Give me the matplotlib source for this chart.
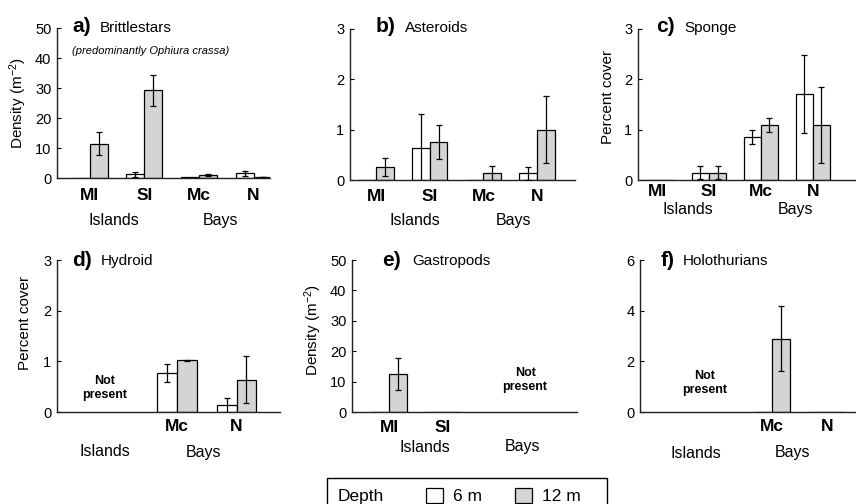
import numpy as np
import matplotlib
matplotlib.use("Agg")
import matplotlib.pyplot as plt
from matplotlib.patches import Rectangle, Patch

plt.rcParams['font.family'] = ['Liberation Sans', 'DejaVu Sans']
plt.rcParams['mathtext.fontset'] = 'custom'
plt.rcParams['mathtext.rm'] = 'Liberation Sans'
plt.rcParams['mathtext.it'] = 'Liberation Sans:italic'

# ---------------- data ----------------
groups = ["MI", "SI", "Mc", "N"]
nan = np.nan

brittle_6 = [0.0, 1.2, 0.2, 1.6]
brittle_6_err = [0.0, 0.8, 0.0, 0.8]
brittle_12 = [11.5, 29.3, 0.9, 0.4]
brittle_12_err = [3.7, 5.2, 0.3, 0.1]

aster_6 = [0.0, 0.63, 0.0, 0.13]
aster_6_err = [0.0, 0.68, 0.0, 0.13]
aster_12 = [0.25, 0.76, 0.13, 1.0]
aster_12_err = [0.18, 0.34, 0.14, 0.67]

sponge_6 = [0.0, 0.14, 0.86, 1.71]
sponge_6_err = [0.0, 0.13, 0.14, 0.77]
sponge_12 = [0.0, 0.14, 1.09, 1.09]
sponge_12_err = [0.0, 0.13, 0.14, 0.75]

hydroid_6 = [nan, nan, 0.77, 0.13]
hydroid_6_err = [0.0, 0.0, 0.18, 0.14]
hydroid_12 = [nan, nan, 1.02, 0.64]
hydroid_12_err = [0.0, 0.0, 0.01, 0.46]

gastro_6 = [0.0, 0.0, nan, nan]
gastro_6_err = [0.0, 0.0, 0.0, 0.0]
gastro_12 = [12.5, 0.0, nan, nan]
gastro_12_err = [5.4, 0.0, 0.0, 0.0]

holo_6 = [nan, nan, 0.0, 0.0]
holo_6_err = [0.0, 0.0, 0.0, 0.0]
holo_12 = [nan, nan, 2.9, 0.0]
holo_12_err = [0.0, 0.0, 1.28, 0.0]

# ---------------- layout ----------------
W, H = 856, 504
fig = plt.figure(figsize=(W / 100, H / 100), dpi=100)

WHITE = "white"
GREY = "#d4d4d4"
BW = 0.33

panels = [
    dict(letter="a)", name="Brittlestars", sub="(predominantly Ophiura crassa)",
         v6=brittle_6, e6=brittle_6_err, v12=brittle_12, e12=brittle_12_err,
         rect=(57, 28, 270, 178), xlim=(-0.6, 3.3), ylim=50, yticks=[0, 10, 20, 30, 40, 50],
         ticks=[0, 1, 2, 3], tpad=7.5, glab=(0.45, 2.4), gdy=42,
         ylabel="Density (m$^{-2}$)", ylab_xy=(18, 103),
         title_xy=(72, 27), name_x=100, notpresent=None),
    dict(letter="b)", name="Asteroids", sub=None,
         v6=aster_6, e6=aster_6_err, v12=aster_12, e12=aster_12_err,
         rect=(350, 29, 575, 180), xlim=(-0.484, 3.706), ylim=3, yticks=[0, 1, 2, 3],
         ticks=[0, 1, 2, 3], tpad=6.5, glab=(0.73, 2.57), gdy=40,
         ylabel=None, ylab_xy=None,
         title_xy=(376, 27), name_x=405, notpresent=None),
    dict(letter="c)", name="Sponge", sub=None,
         v6=sponge_6, e6=sponge_6_err, v12=sponge_12, e12=sponge_12_err,
         rect=(638, 29, 856, 180), xlim=(-0.365, 3.83), ylim=3, yticks=[0, 1, 2, 3],
         ticks=[0, 1, 2, 3], tpad=3, glab=(0.6, 2.67), gdy=29,
         ylabel="Percent cover", ylab_xy=(608, 97),
         title_xy=(656, 27), name_x=684, notpresent=None),
    dict(letter="d)", name="Hydroid", sub=None,
         v6=hydroid_6, e6=hydroid_6_err, v12=hydroid_12, e12=hydroid_12_err,
         rect=(57, 260, 280, 412), xlim=(-0.017, 3.73), ylim=3, yticks=[0, 1, 2, 3],
         ticks=[2, 3], tpad=5, glab=(0.79, 2.45), gdy=40,
         ylabel="Percent cover", ylab_xy=(25, 323),
         title_xy=(72, 260), name_x=101, notpresent=(0.79, 0.158)),
    dict(letter="e)", name="Gastropods", sub=None,
         v6=gastro_6, e6=gastro_6_err, v12=gastro_12, e12=gastro_12_err,
         rect=(352, 260, 577, 412), xlim=(-0.685, 3.48), ylim=50, yticks=[0, 10, 20, 30, 40, 50],
         ticks=[0, 1], tpad=6, glab=(0.67, 2.48), gdy=35,
         ylabel="Density (m$^{-2}$)", ylab_xy=(313, 330),
         title_xy=(382, 260), name_x=412, notpresent=(2.52, 0.21)),
    dict(letter="f)", name="Holothurians", sub=None,
         v6=holo_6, e6=holo_6_err, v12=holo_12, e12=holo_12_err,
         rect=(640, 260, 856, 412), xlim=(-0.4, 3.53), ylim=6, yticks=[0, 2, 4, 6],
         ticks=[2, 3], tpad=5, glab=(0.62, 2.38), gdy=41,
         ylabel=None, ylab_xy=None,
         title_xy=(661, 260), name_x=683, notpresent=(0.78, 0.19)),
]

x = np.arange(len(groups))

for p in panels:
    l, t, r, b = p["rect"]
    ax = fig.add_axes([l / W, 1 - b / H, (r - l) / W, (b - t) / H])
    v6 = np.array(p["v6"], dtype=float)
    v12 = np.array(p["v12"], dtype=float)
    e6 = np.array(p["e6"], dtype=float)
    e12 = np.array(p["e12"], dtype=float)
    m6 = ~np.isnan(v6)
    m12 = ~np.isnan(v12)
    ax.bar(x[m6] - BW / 2, v6[m6], BW, color=WHITE, edgecolor="black", linewidth=0.9, zorder=2)
    ax.bar(x[m12] + BW / 2, v12[m12], BW, color=GREY, edgecolor="black", linewidth=0.9, zorder=2)
    k6 = m6 & (e6 > 0)
    k12 = m12 & (e12 > 0)
    ax.errorbar(x[k6] - BW / 2, v6[k6], yerr=e6[k6], fmt="none", ecolor="black",
                elinewidth=0.9, capsize=2.2, capthick=0.9, zorder=3)
    ax.errorbar(x[k12] + BW / 2, v12[k12], yerr=e12[k12], fmt="none", ecolor="black",
                elinewidth=0.9, capsize=2.2, capthick=0.9, zorder=3)

    ax.set_xlim(*p["xlim"])
    ax.set_ylim(0, p["ylim"])
    ax.set_yticks(p["yticks"])
    ax.set_yticklabels([str(v) for v in p["yticks"]], fontsize=10.5)
    ax.set_xticks(p["ticks"])
    ax.set_xticklabels([groups[i] for i in p["ticks"]], fontsize=12.5, fontweight="bold")
    ax.tick_params(axis="x", length=0, pad=p["tpad"])
    ax.tick_params(axis="y", direction="in", length=3, width=0.8, pad=4)
    for s in ("top", "right"):
        ax.spines[s].set_visible(False)
    for s in ("left", "bottom"):
        ax.spines[s].set_linewidth(1.0)
        ax.spines[s].set_color("#222222")
    ax.patch.set_alpha(0)

    for lab, gx in zip(["Islands", "Bays"], p["glab"]):
        ax.annotate(lab, xy=(gx, 0), xycoords=("data", "axes fraction"),
                    xytext=(0, -p["gdy"] * 0.72), textcoords="offset points",
                    ha="center", va="center", fontsize=11.5)

    if p["notpresent"] is not None:
        nx, ny = p["notpresent"]
        ax.text(nx, ny, "Not\npresent", transform=ax.get_xaxis_transform(),
                ha="center", va="center", fontsize=9, fontweight="bold", linespacing=1.3)

    tx, ty = p["title_xy"]
    fig.text(tx / W, 1 - ty / H, p["letter"], fontsize=15, fontweight="bold",
             ha="left", va="center")
    fig.text(p["name_x"] / W, 1 - (ty + 1) / H, p["name"], fontsize=11,
             ha="left", va="center")
    if p["sub"]:
        fig.text(tx / W, 1 - (ty + 24) / H, p["sub"], fontsize=8, style="italic",
                 ha="left", va="center")
    if p["ylabel"]:
        yx, yy = p["ylab_xy"]
        fig.text(yx / W, 1 - yy / H, p["ylabel"], rotation=90, fontsize=11,
                 ha="center", va="center")

# ---------------- legend ----------------
frame = Rectangle((327 / W, 1 - 515 / H), (607 - 327) / W, (515 - 478) / H,
                  transform=fig.transFigure, fill=False, edgecolor="black",
                  linewidth=1.0, clip_on=False)
fig.patches.append(frame)
fig.text(338 / W, 1 - 496 / H, "Depth", fontsize=12.5, ha="left", va="center")
handles = [Patch(facecolor=WHITE, edgecolor="black", linewidth=0.9),
           Patch(facecolor=GREY, edgecolor="black", linewidth=0.9)]
fig.legend(handles, ["6 m", "12 m"], loc="center left",
           bbox_to_anchor=(426 / W, 1 - 496 / H), ncol=2, frameon=False,
           fontsize=12.5, handlelength=1.0, handleheight=1.0, handletextpad=0.55,
           columnspacing=1.9, borderpad=0, borderaxespad=0)

fig.savefig("out.png", dpi=100)
